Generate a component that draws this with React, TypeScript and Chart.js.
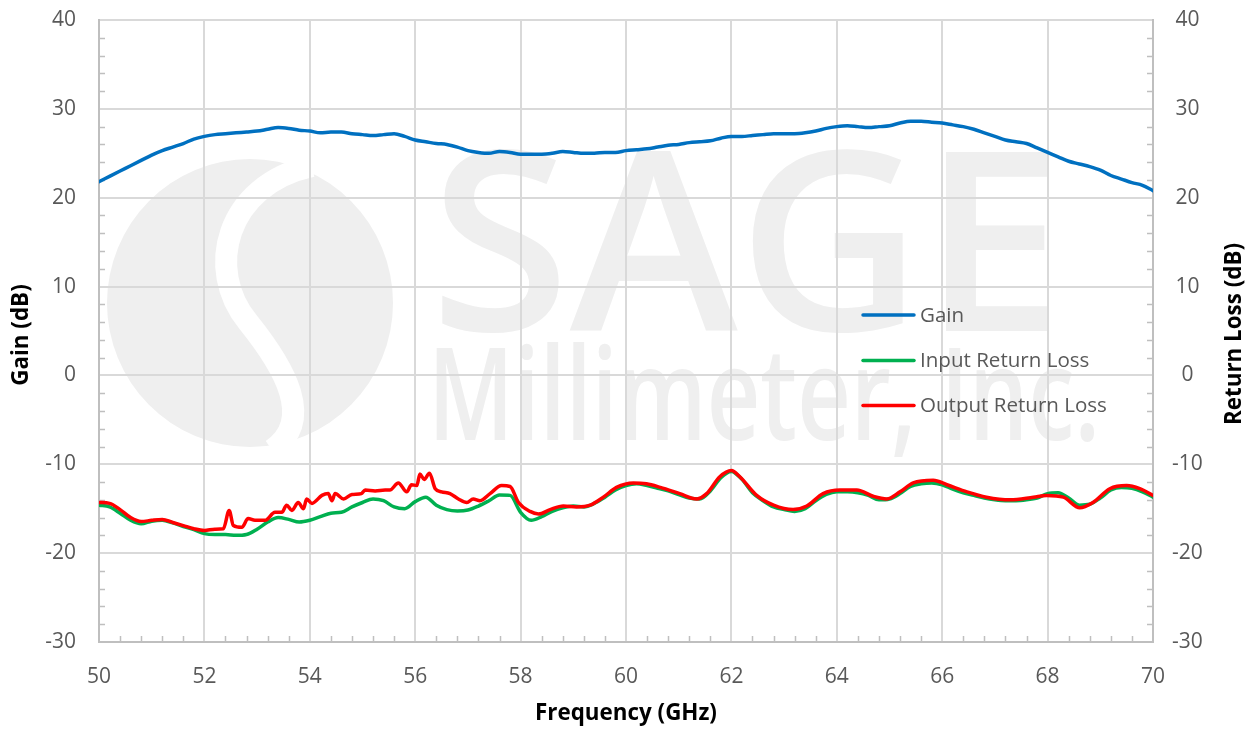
import React, { useEffect, useRef } from "react";
import { Chart, registerables } from "chart.js";

Chart.register(...registerables);

// ---------- data ----------
const FREQ_GHZ = [
  50.0, 50.2, 50.4, 50.6, 50.8, 51.0, 51.2, 51.4, 51.6, 51.8,
  52.0, 52.2, 52.4, 52.6, 52.8, 53.0, 53.2, 53.4, 53.6, 53.8,
  54.0, 54.2, 54.4, 54.6, 54.8, 55.0, 55.2, 55.4, 55.6, 55.8,
  56.0, 56.2, 56.4, 56.6, 56.8, 57.0, 57.2, 57.4, 57.6, 57.8,
  58.0, 58.2, 58.4, 58.6, 58.8, 59.0, 59.2, 59.4, 59.6, 59.8,
  60.0, 60.2, 60.4, 60.6, 60.8, 61.0, 61.2, 61.4, 61.6, 61.8,
  62.0, 62.2, 62.4, 62.6, 62.8, 63.0, 63.2, 63.4, 63.6, 63.8,
  64.0, 64.2, 64.4, 64.6, 64.8, 65.0, 65.2, 65.4, 65.6, 65.8,
  66.0, 66.2, 66.4, 66.6, 66.8, 67.0, 67.2, 67.4, 67.6, 67.8,
  68.0, 68.2, 68.4, 68.6, 68.8, 69.0, 69.2, 69.4, 69.6, 69.8,
  70.0,
];

const GAIN_DB = [
  21.8, 22.4, 23.0, 23.6, 24.2, 24.8, 25.3, 25.7, 26.1, 26.6,
  26.9, 27.1, 27.2, 27.3, 27.4, 27.5, 27.7, 27.9, 27.8, 27.6,
  27.5, 27.3, 27.4, 27.4, 27.2, 27.1, 27.0, 27.1, 27.2, 26.9,
  26.5, 26.3, 26.1, 26.0, 25.7, 25.3, 25.1, 25.0, 25.2, 25.1,
  24.9, 24.9, 24.9, 25.0, 25.2, 25.1, 25.0, 25.0, 25.1, 25.1,
  25.3, 25.4, 25.5, 25.7, 25.9, 26.0, 26.2, 26.3, 26.4, 26.7,
  26.9, 26.9, 27.0, 27.1, 27.2, 27.2, 27.2, 27.3, 27.5, 27.8,
  28.0, 28.1, 28.0, 27.9, 28.0, 28.1, 28.4, 28.6, 28.6, 28.5,
  28.4, 28.2, 28.0, 27.7, 27.3, 26.9, 26.5, 26.3, 26.1, 25.6,
  25.1, 24.6, 24.1, 23.8, 23.5, 23.1, 22.5, 22.1, 21.7, 21.4,
  20.8,
];

const INPUT_RL_DB = [
  -14.6, -14.8, -15.5, -16.3, -16.7, -16.4, -16.3, -16.6, -17.0, -17.35,
  -17.8, -17.9, -17.9, -18.0, -17.9, -17.3, -16.5, -16.0, -16.2, -16.5,
  -16.3, -15.9, -15.5, -15.4, -14.8, -14.3, -13.9, -14.1, -14.8, -15.0,
  -14.2, -13.7, -14.6, -15.1, -15.25, -15.15, -14.7, -14.1, -13.45, -13.5,
  -15.4, -16.3, -15.9, -15.3, -14.9, -14.7, -14.8, -14.4, -13.7, -12.9,
  -12.4, -12.2, -12.4, -12.7, -13.0, -13.4, -13.8, -13.9, -13.0, -11.5,
  -10.8, -11.7, -13.2, -14.1, -14.8, -15.1, -15.3, -15.0, -14.1, -13.4,
  -13.1, -13.1, -13.2, -13.5, -14.0, -13.9, -13.3, -12.5, -12.2, -12.1,
  -12.3, -12.8, -13.2, -13.5, -13.8, -14.0, -14.1, -14.1, -14.0, -13.8,
  -13.3, -13.2, -13.8, -14.6, -14.5, -13.8, -12.9, -12.6, -12.7, -13.1,
  -13.7,
];

const OUTPUT_FREQ_GHZ = [
  50.0, 50.2, 50.4, 50.6, 50.8, 51.0, 51.2, 51.4, 51.6, 51.8,
  52.0, 52.2, 52.36, 52.47, 52.55, 52.71, 52.83, 52.96, 53.15, 53.34,
  53.47, 53.56, 53.66, 53.78, 53.88, 53.94, 54.04, 54.23, 54.35, 54.42,
  54.48, 54.64, 54.8, 54.98, 55.05, 55.24, 55.43, 55.52, 55.68, 55.84,
  55.93, 56.03, 56.09, 56.17, 56.27, 56.38, 56.5, 56.66, 56.82, 56.98,
  57.1, 57.23, 57.42, 57.64, 57.8, 57.96, 58.18, 58.34, 58.56, 58.81,
  59.06, 59.32, 59.57, 59.82, 60.14, 60.39, 60.65, 61.02, 61.34, 61.53,
  61.78, 62.0, 62.16, 62.48, 62.8, 63.17, 63.43, 63.74, 64.06, 64.38,
  64.69, 64.95, 65.2, 65.45, 65.83, 66.09, 66.47, 66.84, 67.29, 67.73,
  67.98, 68.3, 68.61, 68.86, 69.18, 69.5, 69.75, 70.0,
];

const OUTPUT_RL_DB = [
  -14.3, -14.4, -15.1, -16.0, -16.45, -16.3, -16.2, -16.55, -16.9, -17.25,
  -17.45, -17.3, -17.25, -15.2, -16.9, -17.1, -16.1, -16.3, -16.3, -15.4,
  -15.4, -14.6, -15.2, -14.3, -15.0, -13.9, -14.4, -13.5, -13.3, -14.1,
  -13.3, -13.9, -13.4, -13.3, -12.9, -13.0, -12.9, -12.9, -12.1, -13.1,
  -12.3, -12.4, -11.1, -11.7, -11.0, -12.75, -13.1, -13.3, -13.9, -14.3,
  -13.9, -14.1, -13.3, -12.4, -12.5, -14.3, -15.3, -15.6, -15.1, -14.7,
  -14.8, -14.6, -13.7, -12.6, -12.1, -12.2, -12.6, -13.3, -13.9, -13.3,
  -11.4, -10.7, -11.4, -13.5, -14.6, -15.1, -14.7, -13.3, -12.9, -12.9,
  -13.6, -13.9, -13.1, -12.1, -11.8, -12.3, -13.1, -13.7, -14.0, -13.7,
  -13.5, -13.7, -14.9, -14.3, -12.75, -12.4, -12.75, -13.5,
];

const SERIES_NAMES = ["Gain", "Input Return Loss", "Output Return Loss"];
const SERIES_COLORS = ["#0070C0", "#00B050", "#FF0000"];
const X_TITLE = "Frequency (GHz)";
const Y_TITLE = "Gain (dB)";
const Y2_TITLE = "Return Loss (dB)";
const WATERMARK_BIG = "SAGE";
const WATERMARK_SMALL = "Millimeter, Inc.";
const X_MIN = 50, X_MAX = 70, X_STEP = 2;
const Y_MIN = -30, Y_MAX = 40, Y_STEP = 10;

// ---------- styling ----------
const FONT = '"Open Sans", "Noto Sans", sans-serif';
const TICK_COLOR = "#595959";
const GRID_COLOR = "#d9d9d9";
const AXIS_COLOR = "#bfbfbf";
const WM_COLOR = "#efefef";

function fitFont(ctx: CanvasRenderingContext2D, text: string, width: number, weight: string) {
  ctx.font = `${weight} 100px ${FONT}`;
  const w = ctx.measureText(text).width;
  return (100 * width) / w;
}

function drawStretched(ctx: CanvasRenderingContext2D, text: string, x: number, baseline: number, width: number, size: number, weight: string) {
  ctx.font = `${weight} ${size}px ${FONT}`;
  const w = ctx.measureText(text).width;
  ctx.save();
  ctx.translate(x, baseline);
  ctx.scale(width / w, 1);
  ctx.textAlign = "left";
  ctx.textBaseline = "alphabetic";
  ctx.fillText(text, 0, 0);
  ctx.restore();
}

const watermarkPlugin = {
  id: "watermark",
  beforeDraw(chart: any) {
    const ctx: CanvasRenderingContext2D = chart.ctx;
    ctx.save();
    ctx.fillStyle = WM_COLOR;
    ctx.beginPath();
    ctx.ellipse(250, 303, 143, 144, 0, 0, Math.PI * 2);
    ctx.fill();
    ctx.strokeStyle = "#ffffff";
    ctx.lineWidth = 22;
    ctx.lineCap = "butt";
    ctx.beginPath();
    ctx.moveTo(312, 166);
    ctx.bezierCurveTo(225, 185, 205, 270, 248, 322);
    ctx.bezierCurveTo(285, 368, 315, 420, 272, 450);
    ctx.stroke();
    ctx.fillStyle = WM_COLOR;
    drawStretched(ctx, WATERMARK_BIG, 430, 331, 634, 250, "600");
    drawStretched(ctx, WATERMARK_SMALL, 428, 440, 672, 128, "600");
    ctx.restore();
  },
};

const minorTickPlugin = {
  id: "minorTicks",
  beforeDatasetsDraw(chart: any) {
    const ctx: CanvasRenderingContext2D = chart.ctx;
    const { x, y } = chart.scales;
    const a = chart.chartArea;
    ctx.save();
    ctx.strokeStyle = AXIS_COLOR;
    ctx.lineWidth = 1.5;
    ctx.beginPath();
    for (let v = Y_MIN; v <= Y_MAX; v += 2) {
      if (v % Y_STEP === 0) continue;
      const py = Math.round(y.getPixelForValue(v)) + 0.5;
      ctx.moveTo(a.left, py);
      ctx.lineTo(a.left + 6, py);
      ctx.moveTo(a.right - 6, py);
      ctx.lineTo(a.right, py);
    }
    for (let k = 1; k < 50; k++) {
      if (k % 5 === 0) continue;
      const px = Math.round(x.getPixelForValue(X_MIN + k * 0.4)) + 0.5;
      ctx.moveTo(px, a.bottom);
      ctx.lineTo(px, a.bottom - 6);
    }
    ctx.stroke();
    ctx.restore();
  },
};

const overlayPlugin = {
  id: "overlay",
  afterDraw(chart: any) {
    const ctx: CanvasRenderingContext2D = chart.ctx;
    ctx.save();
    // legend
    const legSize = fitFont(ctx, SERIES_NAMES[2], 187, "normal");
    const rows = [315, 360.5, 405.5];
    SERIES_NAMES.forEach((name, i) => {
      ctx.strokeStyle = SERIES_COLORS[i];
      ctx.lineWidth = 3.5;
      ctx.lineCap = "round";
      ctx.beginPath();
      ctx.moveTo(863, rows[i]);
      ctx.lineTo(914, rows[i]);
      ctx.stroke();
      ctx.fillStyle = TICK_COLOR;
      ctx.font = `normal ${legSize}px ${FONT}`;
      ctx.textAlign = "left";
      ctx.textBaseline = "middle";
      ctx.fillText(name, 920, rows[i] + 1);
    });
    // axis titles
    const tSize = fitFont(ctx, X_TITLE, 182, "bold");
    ctx.fillStyle = "#000000";
    ctx.font = `bold ${tSize}px ${FONT}`;
    ctx.textAlign = "center";
    ctx.textBaseline = "middle";
    ctx.fillText(X_TITLE, 626, 714);
    ctx.save();
    ctx.translate(22, 335);
    ctx.rotate(-Math.PI / 2);
    ctx.fillText(Y_TITLE, 0, 0);
    ctx.restore();
    ctx.save();
    ctx.translate(1235, 334);
    ctx.rotate(-Math.PI / 2);
    ctx.fillText(Y2_TITLE, 0, 0);
    ctx.restore();
    ctx.restore();
  },
};

export default function App() {
  const ref = useRef<HTMLCanvasElement>(null);

  useEffect(() => {
    const canvas = ref.current;
    if (!canvas) return;
    const tickFont = { family: FONT, size: 21 };
    const fitY = (w: number) => (s: any) => {
      s.width = w;
      s.paddingTop = 0;
      s.paddingBottom = 0;
    };
    const chart = new Chart(canvas, {
      type: "line",
      data: {
        datasets: [
          {
            label: SERIES_NAMES[0],
            data: FREQ_GHZ.map((f, i) => ({ x: f, y: GAIN_DB[i] })),
            borderColor: SERIES_COLORS[0],
            backgroundColor: SERIES_COLORS[0],
            yAxisID: "y",
            order: 2,
          },
          {
            label: SERIES_NAMES[1],
            data: FREQ_GHZ.map((f, i) => ({ x: f, y: INPUT_RL_DB[i] })),
            borderColor: SERIES_COLORS[1],
            backgroundColor: SERIES_COLORS[1],
            yAxisID: "y2",
            order: 1,
          },
          {
            label: SERIES_NAMES[2],
            data: OUTPUT_FREQ_GHZ.map((f, i) => ({ x: f, y: OUTPUT_RL_DB[i] })),
            borderColor: SERIES_COLORS[2],
            backgroundColor: SERIES_COLORS[2],
            yAxisID: "y2",
            order: 0,
          },
        ],
      },
      options: {
        responsive: false,
        animation: false,
        devicePixelRatio: 1,
        layout: { padding: { top: 20, left: 0, right: 0, bottom: 0 } },
        elements: {
          point: { radius: 0, hoverRadius: 0 },
          line: { borderWidth: 3.5, cubicInterpolationMode: "monotone", borderCapStyle: "round", borderJoinStyle: "round" },
        },
        plugins: { legend: { display: false }, tooltip: { enabled: false } },
        scales: {
          x: {
            type: "linear",
            min: X_MIN,
            max: X_MAX,
            ticks: { stepSize: X_STEP, color: TICK_COLOR, font: tickFont, padding: 22, maxRotation: 0, autoSkip: false },
            grid: { color: GRID_COLOR, lineWidth: 2, drawTicks: false },
            border: { color: AXIS_COLOR, width: 2 },
            afterFit: (s: any) => { s.height = 88; },
          },
          y: {
            type: "linear",
            position: "left",
            min: Y_MIN,
            max: Y_MAX,
            ticks: { stepSize: Y_STEP, color: TICK_COLOR, font: tickFont, padding: 23 },
            grid: { color: GRID_COLOR, lineWidth: 2, drawTicks: false },
            border: { color: AXIS_COLOR, width: 2 },
            afterFit: fitY(99),
          },
          y2: {
            type: "linear",
            position: "right",
            min: Y_MIN,
            max: Y_MAX,
            ticks: { stepSize: Y_STEP, color: TICK_COLOR, font: tickFont, padding: 19, crossAlign: "center" },
            grid: { drawOnChartArea: false, drawTicks: false },
            border: { color: AXIS_COLOR, width: 2 },
            afterFit: fitY(101),
          },
        },
      },
      plugins: [watermarkPlugin, minorTickPlugin, overlayPlugin],
    } as any);
    const fonts: any = (document as any).fonts;
    if (fonts && fonts.load) {
      Promise.all([fonts.load(`21px "Open Sans"`), fonts.load(`bold 21px "Open Sans"`), fonts.load(`600 21px "Open Sans"`)])
        .then(() => chart.update())
        .catch(() => {});
    }
    return () => chart.destroy();
  }, []);

  return (
    <div style={{ position: "absolute", left: 0, top: 0, width: 1254, height: 730, background: "#ffffff" }}>
      <canvas ref={ref} width={1254} height={730} style={{ display: "block", width: 1254, height: 730 }} />
    </div>
  );
}
